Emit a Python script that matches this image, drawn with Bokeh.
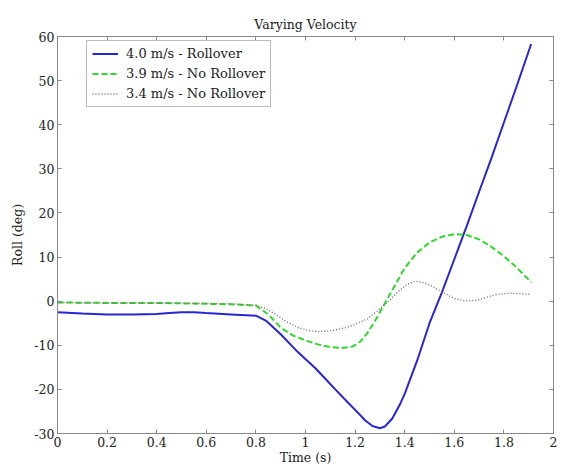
from bokeh.plotting import figure
from bokeh.models import Range1d, LinearAxis, FixedTicker, Legend, LegendItem
from bokeh.embed import file_html
from bokeh.resources import INLINE

# ---- data ----
blue_t = [0, 0.1, 0.2, 0.3, 0.4, 0.45, 0.5, 0.55, 0.6, 0.7, 0.8, 0.84, 0.9, 0.97, 1.04, 1.08,
          1.12, 1.17, 1.21, 1.24, 1.27, 1.3, 1.32, 1.35, 1.38, 1.4, 1.45, 1.5, 1.55, 1.6, 1.65,
          1.7, 1.75, 1.8, 1.85, 1.91]
blue_y = [-2.5, -2.8, -3.0, -3.0, -2.9, -2.7, -2.5, -2.5, -2.7, -3.0, -3.3, -4.4, -7.5, -11.6,
          -15.2, -17.6, -20.0, -22.9, -25.2, -27.0, -28.3, -28.8, -28.4, -26.6, -23.5, -21.0,
          -13.5, -5.0, 2.0, 9.5, 17.0, 24.8, 32.5, 40.5, 48.5, 58.3]

green_t = [0, 0.2, 0.4, 0.6, 0.7, 0.8, 0.85, 0.9, 0.95, 1.0, 1.05, 1.1, 1.15, 1.19, 1.22, 1.25,
           1.28, 1.31, 1.34, 1.37, 1.4, 1.45, 1.5, 1.55, 1.6, 1.65, 1.7, 1.75, 1.8, 1.85, 1.91]
green_y = [-0.3, -0.4, -0.4, -0.6, -0.7, -1.0, -3.0, -6.0, -7.8, -8.9, -9.8, -10.4, -10.6,
           -10.3, -9.2, -7.2, -4.5, -1.5, 1.5, 4.5, 7.5, 11.0, 13.3, 14.6, 15.2, 15.0, 14.0,
           12.3, 10.2, 7.7, 4.3]

gray_t = [0, 0.2, 0.4, 0.6, 0.7, 0.8, 0.84, 0.88, 0.92, 0.97, 1.01, 1.05, 1.09, 1.13, 1.17,
          1.21, 1.25, 1.29, 1.33, 1.37, 1.41, 1.44, 1.47, 1.51, 1.56, 1.6, 1.64, 1.69, 1.73,
          1.77, 1.82, 1.87, 1.91]
gray_y = [-0.3, -0.4, -0.4, -0.5, -0.6, -0.9, -1.7, -3.0, -4.5, -6.0, -6.6, -6.9, -6.8, -6.4,
          -5.9, -5.0, -4.0, -2.2, -0.3, 2.0, 3.8, 4.5, 4.3, 3.4, 1.8, 0.6, 0.1, 0.2, 0.9, 1.5,
          1.8, 1.7, 1.5]

series_labels = ["4.0 m/s - Rollover", "3.9 m/s - No Rollover", "3.4 m/s - No Rollover"]

x_ticks = [0, 0.2, 0.4, 0.6, 0.8, 1.0, 1.2, 1.4, 1.6, 1.8, 2.0]
x_tick_labels = ["0", "0.2", "0.4", "0.6", "0.8", "1", "1.2", "1.4", "1.6", "1.8", "2"]
y_ticks = [-30, -20, -10, 0, 10, 20, 30, 40, 50, 60]
y_tick_labels = ["-30", "-20", "-10", "0", "10", "20", "30", "40", "50", "60"]

FONT = "DejaVu Serif"

p = figure(frame_width=496, frame_height=397, output_backend="svg", toolbar_location=None,
           x_range=Range1d(0, 2), y_range=Range1d(-30, 60),
           title="Varying Velocity", x_axis_label="Time (s)", y_axis_label="Roll (deg)",
           min_border_left=57, min_border_right=10, min_border_top=36, min_border_bottom=35)
p.background_fill_color = "white"
p.border_fill_color = "white"
p.grid.visible = False
p.outline_line_color = "#888888"
p.outline_line_width = 1

p.title.align = "center"
p.title.text_font = FONT
p.title.text_font_style = "normal"
p.title.text_font_size = "12.5px"
p.title.text_color = "#222222"

def style_axis(ax, ticks, labels, show_labels=True):
    ax.ticker = FixedTicker(ticks=ticks)
    ax.major_tick_in = 4
    ax.major_tick_out = 0
    ax.minor_tick_in = 0
    ax.minor_tick_out = 0
    ax.axis_line_color = "#888888"
    ax.major_tick_line_color = "#888888"
    ax.major_label_text_font = FONT
    ax.major_label_text_font_size = "12.5px"
    ax.major_label_text_color = "#222222"
    ax.major_label_standoff = 3
    ax.axis_label_text_font = FONT
    ax.axis_label_text_font_style = "normal"
    ax.axis_label_text_font_size = "12.5px"
    ax.axis_label_text_color = "#222222"
    ax.axis_label_standoff = 4
    if show_labels:
        ax.major_label_overrides = {t: l for t, l in zip(ticks, labels)}
    else:
        ax.major_label_overrides = {t: "" for t in ticks}
        ax.major_label_standoff = 0

style_axis(p.xaxis[0], x_ticks, x_tick_labels)
style_axis(p.yaxis[0], y_ticks, y_tick_labels)
p.xaxis[0].axis_label_standoff = 0
p.yaxis[0].axis_label_standoff = 6

top_ax = LinearAxis()
right_ax = LinearAxis()
style_axis(top_ax, x_ticks, x_tick_labels, show_labels=False)
style_axis(right_ax, y_ticks, y_tick_labels, show_labels=False)
p.add_layout(top_ax, "above")
p.add_layout(right_ax, "right")

r1 = p.line(blue_t, blue_y, line_color="#2626d6", line_width=2)
r2 = p.line(green_t, green_y, line_color="#2ed82e", line_width=2, line_dash="6 3")
r3 = p.line(gray_t, gray_y, line_color="#7a6666", line_width=1.4, line_dash="1 2")

legend = Legend(items=[LegendItem(label=series_labels[0], renderers=[r1]),
                       LegendItem(label=series_labels[1], renderers=[r2]),
                       LegendItem(label=series_labels[2], renderers=[r3])],
                location=(29, 326))
legend.label_text_font = FONT
legend.label_text_font_size = "13px"
legend.label_text_color = "#222222"
legend.glyph_width = 26
legend.glyph_height = 13
legend.label_height = 13
legend.spacing = 5
legend.padding = 5
legend.margin = 0
legend.label_standoff = 8
legend.border_line_color = "#777777"
legend.border_line_width = 1
legend.background_fill_alpha = 1
p.add_layout(legend, "center")

open("out.html", "w").write(file_html(p, INLINE))
